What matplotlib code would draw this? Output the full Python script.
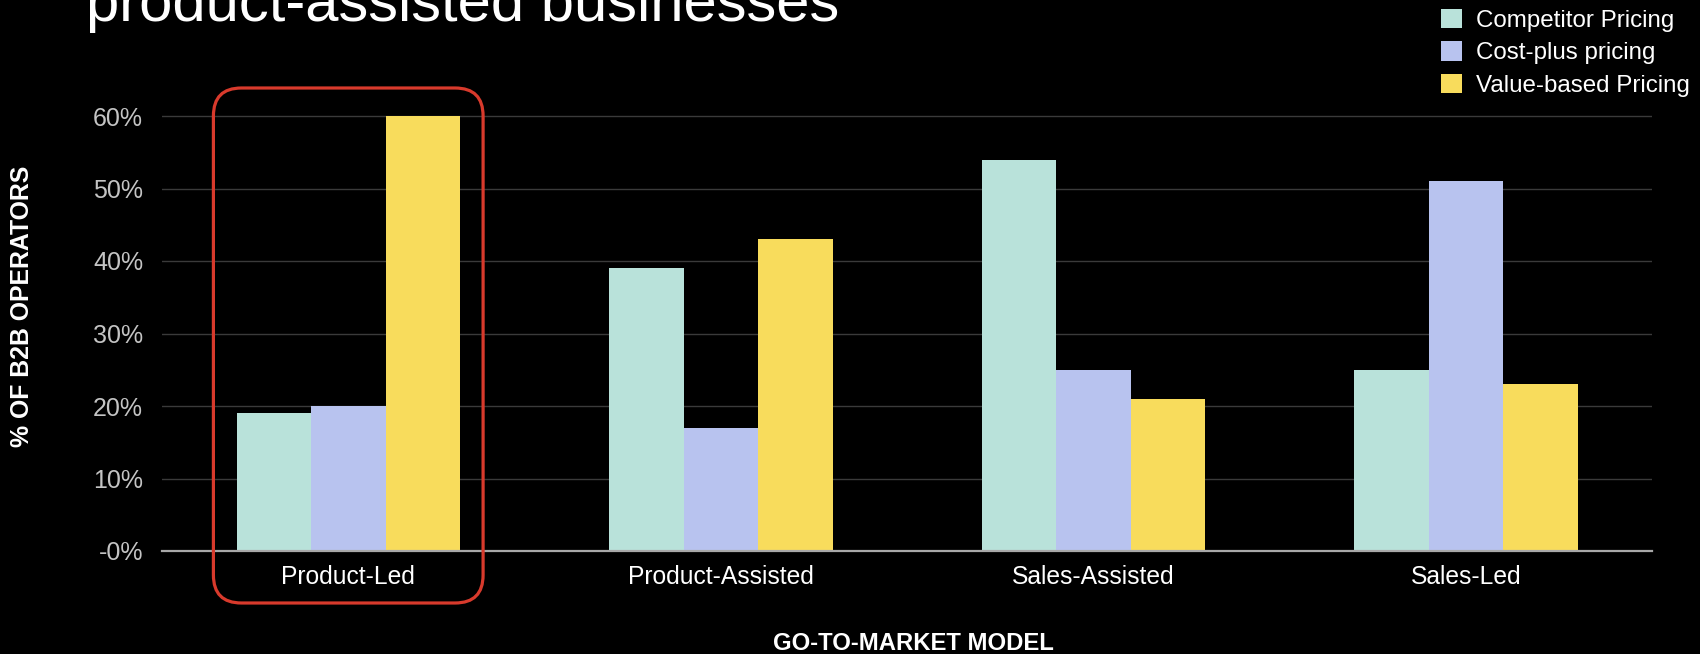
import numpy as np
import matplotlib
matplotlib.use("Agg")
import matplotlib.pyplot as plt
from matplotlib.patches import FancyBboxPatch
from matplotlib.transforms import IdentityTransform
from matplotlib.ticker import FuncFormatter

# Data
categories = ["Product-Led", "Product-Assisted", "Sales-Assisted", "Sales-Led"]
series_names = ["Competitor Pricing", "Cost-plus pricing", "Value-based Pricing"]
competitor = [19, 39, 54, 25]
cost_plus = [20, 17, 25, 51]
value_based = [60, 43, 21, 23]
y_ticks = [0, 10, 20, 30, 40, 50, 60]
highlight_index = 0

colors = ["#b9e2da", "#b8c3ef", "#f8dc5c"]
plt.rcParams["font.family"] = ["Liberation Sans", "DejaVu Sans"]

fig = plt.figure(figsize=(17, 6.54), dpi=100, facecolor="black")
ax = fig.add_axes([162 / 1700, 1 - 551 / 654, (1652 - 162) / 1700, (551 - 116) / 654 * 61 / 60])
ax.set_facecolor("black")

x = np.arange(len(categories))
width = 0.2
bars = []
for i, (vals, name, col) in enumerate(zip([competitor, cost_plus, value_based], series_names, colors)):
    b = ax.bar(x + (i - 1) * width, vals, width=width, color=col, label=name, zorder=3, linewidth=0)
    bars.append(b)

ax.set_xlim(-0.5, len(categories) - 0.5)
ax.set_ylim(0, 61)
ax.set_yticks(y_ticks)
ax.yaxis.set_major_formatter(FuncFormatter(lambda v, p: "-0%" if v == 0 else f"{v:.0f}%"))
ax.set_xticks(x)
ax.set_xticklabels(categories)

ax.grid(axis="y", color="#3a3a3a", linewidth=1.0, zorder=0)
ax.grid(axis="x", visible=False)
for s in ["top", "right", "left"]:
    ax.spines[s].set_visible(False)
ax.spines["bottom"].set_color("#a8a8a8")
ax.spines["bottom"].set_linewidth(1.6)
ax.spines["bottom"].set_zorder(4)

ax.tick_params(axis="y", length=0, pad=13.5, labelsize=18, labelcolor="#c4c4c4")
ax.tick_params(axis="x", length=0, pad=10, labelsize=17.7, labelcolor="white")

ax.set_xlabel("GO-TO-MARKET MODEL", fontsize=17.2, fontweight="bold", color="white")
ax.xaxis.set_label_coords(0.504, (551 - 643) / ((551 - 116) * 61 / 60))
ax.xaxis.label.set_va("center")

fig.text(22 / 1700, 1 - 306 / 654, "% OF B2B OPERATORS", rotation=90, fontsize=17.9,
         fontweight="bold", color="white", ha="center", va="center")

fig.text(86 / 1700, 1 - 21 / 654, "product-assisted businesses", fontsize=43,
         color="white", ha="left", va="baseline")

leg = fig.legend(handles=bars, labels=series_names, loc="upper left",
                 bbox_to_anchor=(1441 / 1700, 1 - 9 / 654), frameon=False,
                 fontsize=17.4, labelcolor="white", handlelength=0.86, handleheight=0.86,
                 handletextpad=0.58, labelspacing=0.38, borderpad=0, borderaxespad=0)

# Rounded highlight frame around the first group
fig.canvas.draw()
half = 0.362
x0 = ax.transData.transform((highlight_index - half, 0))[0]
x1 = ax.transData.transform((highlight_index + half, 0))[0]
H = fig.get_figheight() * fig.dpi
y0 = H - 603
y1 = H - 88
frame = FancyBboxPatch((x0, y0), x1 - x0, y1 - y0,
                       boxstyle="round,pad=0,rounding_size=28",
                       transform=IdentityTransform(), fill=False,
                       edgecolor="#d83a2c", linewidth=2.3, zorder=10)
fig.add_artist(frame)

fig.savefig("out.png", dpi=100, facecolor="black")
